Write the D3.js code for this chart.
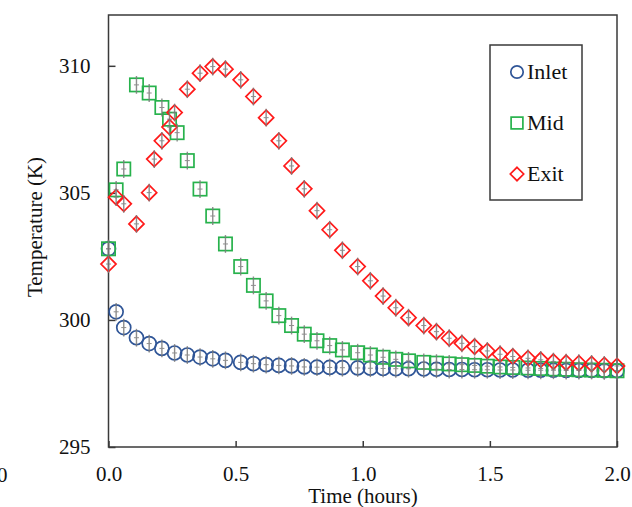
<!DOCTYPE html>
<html>
<head>
<meta charset="utf-8">
<script src="https://cdn.jsdelivr.net/npm/d3@7"></script>
<style>
  html, body { margin: 0; padding: 0; background: #fff; }
  svg { display: block; font-family: "Liberation Serif", "Times New Roman", serif; }
</style>
</head>
<body>
<svg id="chart" width="632" height="507"></svg>
<script>
// Temperature readings (K) at the three probe locations over time (hours)
const inletTime = [0, 0.03, 0.06, 0.11, 0.16, 0.21, 0.26, 0.31, 0.36, 0.41, 0.46, 0.52, 0.57, 0.62, 0.67, 0.72, 0.77, 0.82, 0.87, 0.92, 0.98, 1.03, 1.08, 1.13, 1.18, 1.24, 1.29, 1.34, 1.39, 1.44, 1.49, 1.54, 1.59, 1.65, 1.70, 1.75, 1.80, 1.85, 1.90, 1.95, 2.00];
const inletTemp = [302.8, 300.32, 299.70, 299.30, 299.07, 298.88, 298.70, 298.62, 298.54, 298.47, 298.41, 298.33, 298.28, 298.24, 298.21, 298.19, 298.15, 298.14, 298.13, 298.12, 298.11, 298.10, 298.09, 298.08, 298.08, 298.07, 298.06, 298.05, 298.05, 298.04, 298.04, 298.03, 298.03, 298.02, 298.02, 298.02, 298.01, 298.01, 298.01, 298.00, 298.00];

const midTime = [0, 0.03, 0.06, 0.11, 0.16, 0.21, 0.24, 0.27, 0.31, 0.36, 0.41, 0.46, 0.52, 0.57, 0.62, 0.67, 0.72, 0.77, 0.82, 0.87, 0.92, 0.98, 1.03, 1.08, 1.13, 1.18, 1.24, 1.29, 1.34, 1.39, 1.44, 1.49, 1.54, 1.59, 1.65, 1.70, 1.75, 1.80, 1.85, 1.90, 1.95, 2.00];
const midTemp = [302.8, 305.12, 305.94, 309.25, 308.93, 308.36, 307.90, 307.37, 306.27, 305.15, 304.09, 302.99, 302.10, 301.36, 300.75, 300.17, 299.78, 299.44, 299.18, 298.99, 298.82, 298.71, 298.62, 298.53, 298.45, 298.39, 298.33, 298.30, 298.27, 298.24, 298.21, 298.18, 298.15, 298.13, 298.11, 298.09, 298.07, 298.06, 298.04, 298.03, 298.02, 298.00];

const exitTime = [0, 0.03, 0.06, 0.11, 0.16, 0.18, 0.21, 0.24, 0.26, 0.31, 0.36, 0.41, 0.46, 0.52, 0.57, 0.62, 0.67, 0.72, 0.77, 0.82, 0.87, 0.92, 0.98, 1.03, 1.08, 1.13, 1.18, 1.24, 1.29, 1.34, 1.39, 1.44, 1.49, 1.54, 1.59, 1.65, 1.70, 1.75, 1.80, 1.85, 1.90, 1.95, 2.00];
const exitTemp = [302.2, 304.83, 304.57, 303.78, 305.01, 306.33, 307.05, 307.59, 308.16, 309.08, 309.71, 309.97, 309.87, 309.45, 308.79, 307.96, 307.05, 306.06, 305.16, 304.30, 303.55, 302.74, 302.10, 301.54, 300.94, 300.48, 300.09, 299.78, 299.54, 299.28, 299.08, 298.95, 298.78, 298.65, 298.56, 298.49, 298.43, 298.36, 298.32, 298.30, 298.27, 298.23, 298.19];

// Measurement uncertainty (± K) shown as error bars
const tempError = 0.35;

const seriesNames = ["Inlet", "Mid", "Exit"];
const xTicks = [0, 0.5, 1.0, 1.5, 2.0];
const yTicks = [295, 300, 305, 310];

const series = [
  { name: seriesNames[0], time: inletTime, temp: inletTemp, shape: "circle",  color: "#2f5597" },
  { name: seriesNames[1], time: midTime,   temp: midTemp,   shape: "square",  color: "#27b24c" },
  { name: seriesNames[2], time: exitTime,  temp: exitTemp,  shape: "diamond", color: "#ff1a1a" }
];

const svg = d3.select("#chart");
const plot = { left: 108.5, right: 617, top: 15, bottom: 447 };

const x = d3.scaleLinear().domain([0, 2]).range([plot.left, plot.right]);
const y = d3.scaleLinear().domain([295, 312]).range([plot.bottom, plot.top]);

const axisColor = "#3a3a3a";
const fontSize = 21;

// Axes with inward ticks
const gx = svg.append("g")
  .attr("transform", `translate(0,${plot.bottom})`)
  .call(d3.axisBottom(x).tickValues(xTicks).tickFormat(d3.format(".1f")).tickSize(-6).tickPadding(19));
const gy = svg.append("g")
  .attr("transform", `translate(${plot.left},0)`)
  .call(d3.axisLeft(y).tickValues(yTicks).tickFormat(d3.format("d")).tickSize(-7).tickPadding(18));

[gx, gy].forEach(g => {
  g.select(".domain").remove();
  g.selectAll(".tick line").attr("stroke", axisColor).attr("stroke-width", 1.5);
  g.selectAll(".tick text")
    .attr("fill", "#111")
    .style("font-size", fontSize + "px")
    .style("font-family", "'Liberation Serif', 'Times New Roman', serif");
});

// Plot frame
svg.append("rect")
  .attr("x", plot.left).attr("y", plot.top)
  .attr("width", plot.right - plot.left).attr("height", plot.bottom - plot.top)
  .attr("fill", "none").attr("stroke", axisColor).attr("stroke-width", 1.5);

// Axis titles
svg.append("text")
  .attr("x", 363).attr("y", 503)
  .attr("text-anchor", "middle")
  .attr("fill", "#111")
  .style("font-size", fontSize + "px")
  .text("Time (hours)");

svg.append("text")
  .attr("transform", "translate(42,227) rotate(-90)")
  .attr("text-anchor", "middle")
  .attr("fill", "#111")
  .style("font-size", fontSize + "px")
  .text("Temperature (K)");

// Stray tick label at the left edge
svg.append("text")
  .attr("x", 7.5).attr("y", 482)
  .attr("text-anchor", "end")
  .attr("fill", "#111")
  .style("font-size", fontSize + "px")
  .text("0");

// Marker shapes
function drawMarker(g, shape, cx, cy, size, color) {
  if (shape === "circle") {
    g.append("circle").attr("cx", cx).attr("cy", cy).attr("r", size)
      .attr("fill", "none").attr("stroke", color).attr("stroke-width", 1.7);
  } else if (shape === "square") {
    const s = size * 0.95;
    g.append("rect").attr("x", cx - s).attr("y", cy - s).attr("width", 2 * s).attr("height", 2 * s)
      .attr("fill", "none").attr("stroke", color).attr("stroke-width", 1.7);
  } else {
    const s = size * 1.08;
    g.append("path")
      .attr("d", `M${cx},${cy - s}L${cx + s},${cy}L${cx},${cy + s}L${cx - s},${cy}Z`)
      .attr("fill", "none").attr("stroke", color).attr("stroke-width", 1.7);
  }
}

const marks = svg.append("g");
series.forEach(s => {
  const g = marks.append("g").attr("class", "series-" + s.name);
  s.time.forEach((t, i) => {
    const cx = x(t), cy = y(s.temp[i]);
    drawMarker(g, s.shape, cx, cy, 7, s.color);
  });
});

// Error bars with a small centre tick
const bars = svg.append("g").attr("stroke", "#7a7a7a").attr("stroke-width", 1.4).attr("opacity", 0.85);
series.forEach(s => {
  s.time.forEach((t, i) => {
    const cx = x(t), v = s.temp[i];
    bars.append("line").attr("x1", cx).attr("x2", cx)
      .attr("y1", y(v - tempError)).attr("y2", y(v + tempError));
    bars.append("line").attr("x1", cx - 2.5).attr("x2", cx + 2.5)
      .attr("y1", y(v)).attr("y2", y(v)).attr("stroke-width", 1);
  });
});

// Legend
const legend = svg.append("g");
legend.append("rect")
  .attr("x", 490).attr("y", 45).attr("width", 92).attr("height", 155)
  .attr("fill", "#fff").attr("stroke", axisColor).attr("stroke-width", 1.5);
const legendRows = [79, 130, 181];
series.forEach((s, i) => {
  const base = legendRows[i];
  drawMarker(legend, s.shape, 517, base - 7, 6.2, s.color);
  legend.append("text")
    .attr("x", 527).attr("y", base)
    .attr("fill", "#111")
    .style("font-size", "22px")
    .text(s.name);
});
</script>
</body>
</html>
